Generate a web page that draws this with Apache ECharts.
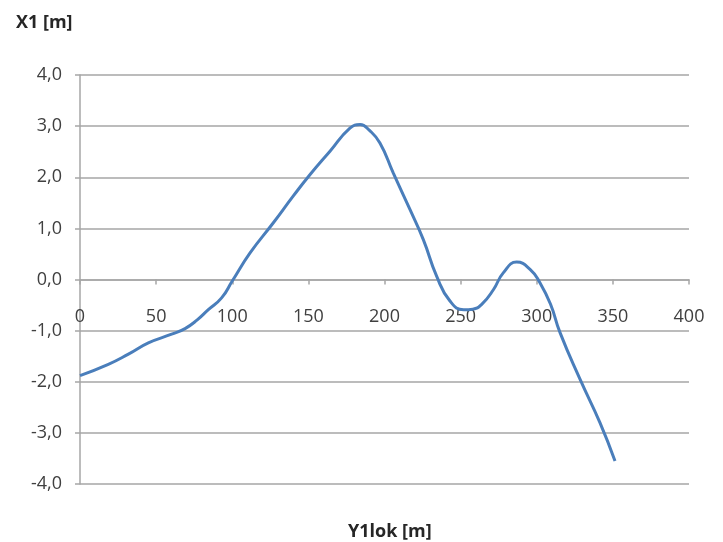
<!DOCTYPE html>
<html>
<head>
<meta charset="utf-8">
<script src="https://cdn.jsdelivr.net/npm/echarts@6/dist/echarts.min.js"></script>
<style>html,body{margin:0;padding:0;background:#fff}#c{width:723px;height:542px}</style>
</head>
<body>
<div id="c"></div>
<script>
const yTitle = 'X1 [m]';
const xTitle = 'Y1lok [m]';
const xValues = [0, 18.6, 31.8, 44.9, 60.2, 69, 77, 84.3, 93, 100, 111.7, 127, 140, 151, 164.2, 177.3, 184, 190, 197, 205.8, 216.7, 225.5, 234.3, 243, 252, 258, 264, 271.5, 278, 286.8, 295.6, 302, 309, 315.3, 328.4, 341.5, 351.4];
const yValues = [-1.88, -1.66, -1.46, -1.24, -1.07, -0.96, -0.79, -0.59, -0.36, -0.03, 0.52, 1.11, 1.63, 2.05, 2.51, 2.96, 3.03, 2.92, 2.67, 2.08, 1.37, 0.78, 0.06, -0.42, -0.59, -0.58, -0.48, -0.2, 0.13, 0.34, 0.2, -0.06, -0.48, -1.04, -1.95, -2.8, -3.55];
const xMin = 0, xMax = 400, xStep = 50;
const yMin = -4, yMax = 4, yStep = 1;

const points = xValues.map((x, i) => [x, yValues[i]]);
const font = '"Open Sans", "Liberation Sans", sans-serif';
const gray = '#a6a6a6';
const chart = echarts.init(document.getElementById('c'), null, {renderer: 'canvas'});
chart.setOption({
  animation: false,
  backgroundColor: '#ffffff',
  title: [
    {text: yTitle, left: 11, top: 9, textStyle: {fontFamily: font, fontSize: 18, fontWeight: 'bold', color: '#262626'}},
    {text: xTitle, left: 343, top: 518, textStyle: {fontFamily: font, fontSize: 18, fontWeight: 'bold', color: '#262626'}}
  ],
  grid: {left: 80, right: 34, top: 75, bottom: 58, containLabel: false},
  xAxis: {
    type: 'value', min: xMin, max: xMax, interval: xStep,
    axisLine: {show: true, onZero: true, lineStyle: {color: gray, width: 1.5}},
    axisTick: {show: true, inside: false, length: 5, lineStyle: {color: gray, width: 1.5}},
    axisLabel: {margin: -176, color: '#404040', fontFamily: font, fontSize: 18},
    splitLine: {show: false}
  },
  yAxis: {
    type: 'value', min: yMin, max: yMax, interval: yStep,
    axisLine: {show: true, onZero: false, lineStyle: {color: gray, width: 1.5}},
    axisTick: {show: true, inside: false, length: 5, lineStyle: {color: gray, width: 1.5}},
    axisLabel: {margin: 18, color: '#404040', fontFamily: font, fontSize: 18,
      formatter: v => v.toFixed(1).replace('.', ',')},
    splitLine: {show: true, lineStyle: {color: gray, width: 1.5}}
  },
  series: [{
    type: 'line', data: points, smooth: 0.5, showSymbol: false,
    lineStyle: {color: '#4a7ebb', width: 3}, itemStyle: {color: '#4a7ebb'}
  }]
});
</script>
</body>
</html>
